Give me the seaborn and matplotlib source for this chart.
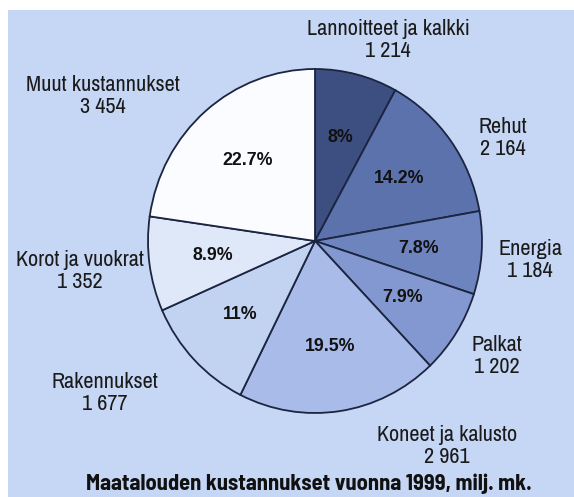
import matplotlib
matplotlib.use("Agg")
import matplotlib.pyplot as plt
import seaborn as sns
from matplotlib.patches import Rectangle

categories = ["Lannoitteet ja kalkki", "Rehut", "Energia", "Palkat",
              "Koneet ja kalusto", "Rakennukset", "Korot ja vuokrat",
              "Muut kustannukset"]
values = [1214, 2164, 1184, 1202, 2961, 1677, 1352, 3454]
value_labels = ["1 214", "2 164", "1 184", "1 202", "2 961", "1 677", "1 352", "3 454"]
pct_labels = ["8%", "14.2%", "7.8%", "7.9%", "19.5%", "11%", "8.9%", "22.7%"]
title = "Maatalouden kustannukset vuonna 1999, milj. mk."

colors = ["#3d4f80", "#5b72ad", "#6e84bf", "#8398d0", "#a9bbe8",
          "#c2d2f1", "#dfe8f9", "#fafcff"]
BG = "#c6d7f5"
EDGE = "#1c2540"
NARROW = ["Archivo Narrow", "DejaVu Sans"]
NARROW_BOLD = ["Barlow Semi Condensed", "DejaVu Sans"]

sns.set_theme(style="white")
plt.rcParams["font.family"] = NARROW

W, H = 574, 497
fig = plt.figure(figsize=(W / 100, H / 100), dpi=100, facecolor="white")
fig.patches.append(Rectangle((8 / W, 0), 1 - 8 / W, (H - 10) / H,
                             transform=fig.transFigure, facecolor=BG,
                             edgecolor="none", zorder=-10))
ax = fig.add_axes([0, 0, 1, 1])
ax.set_facecolor("none")
ax.set_zorder(1)

# pie geometry in pixels (layout)
cx, cy, rx, ry = 315, 241, 167, 172

pct_iter = iter(pct_labels)
wedges, texts, autotexts = ax.pie(
    values, colors=colors, startangle=90, counterclock=False,
    autopct=lambda p: next(pct_iter), pctdistance=0.62,
    wedgeprops=dict(edgecolor=EDGE, linewidth=1.3),
    textprops=dict(fontsize=12.8, fontweight="bold", color="#111111",
                   family=["Liberation Sans", "DejaVu Sans"]))
ax.set_aspect("auto")
ax.set_xlim(-cx / rx, (W - cx) / rx)
ax.set_ylim(-(H - cy) / ry, cy / ry)
ax.axis("off")

# outer label centre positions (pixels, layout)
label_px = [(388, 40), (503, 138), (530, 260), (497, 356),
            (447, 446), (105, 393), (80, 271), (103, 96)]
for name, val, (px, py) in zip(categories, value_labels, label_px):
    ax.text((px - cx) / rx, (cy - py) / ry, f"{name}\n{val}",
            ha="center", va="center", multialignment="center",
            fontsize=16, color="#1a1a1a", linespacing=1.12)

fig.text(309 / W, 1 - 484 / H, title, ha="center", va="center",
         fontsize=16.2, fontweight="bold", color="#111111",
         family=NARROW_BOLD)

fig.savefig("out.png", dpi=100, facecolor="white")
